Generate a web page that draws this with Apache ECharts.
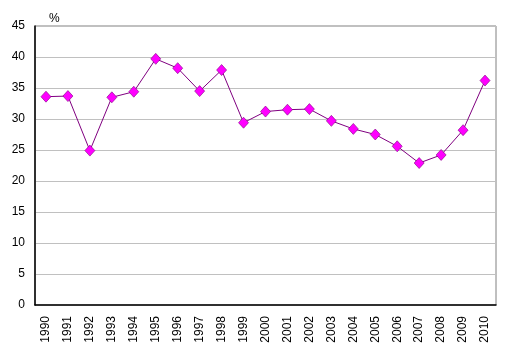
<!DOCTYPE html>
<html><head><meta charset="utf-8">
<script src="https://cdn.jsdelivr.net/npm/echarts@6/dist/echarts.min.js"></script>
<style>html,body{margin:0;padding:0;background:#fff}#c{width:511px;height:358px}</style>
</head><body><div id="c"></div>
<script>
var years = ['1990','1991','1992','1993','1994','1995','1996','1997','1998','1999','2000','2001','2002','2003','2004','2005','2006','2007','2008','2009','2010'];
var values = [33.6,33.7,24.9,33.5,34.4,39.7,38.2,34.5,37.9,29.4,31.2,31.5,31.6,29.7,28.4,27.5,25.6,22.9,24.2,28.2,36.2];
var yTicks = {min:0, max:45, step:5};
var unit = '%';

var chart = echarts.init(document.getElementById('c'), null, {renderer:'canvas'});
chart.setOption({
  animation:false,
  backgroundColor:'#fff',
  textStyle:{fontFamily:'Liberation Sans, Arial, sans-serif'},
  title:{text:unit,left:44,top:8,textStyle:{fontSize:12,fontWeight:'normal',color:'#000',fontFamily:'Liberation Sans, Arial, sans-serif'}},
  grid:{left:35,right:15,top:26,bottom:53,show:true,borderColor:'#808080',borderWidth:1,backgroundColor:'#fff'},
  xAxis:{type:'category',data:years,boundaryGap:true,
    axisLine:{lineStyle:{color:'#000',width:1.5}},
    axisTick:{show:false},
    axisLabel:{rotate:90,fontSize:12,color:'#000',margin:11,interval:0}},
  yAxis:{type:'value',min:yTicks.min,max:yTicks.max,interval:yTicks.step,
    axisLine:{show:true,lineStyle:{color:'#000',width:1.5}},
    axisTick:{show:false},
    splitLine:{lineStyle:{color:'#c0c0c0',width:1}},
    axisLabel:{fontSize:12,color:'#000',margin:10}},
  series:[{type:'line',data:values,symbol:'diamond',symbolSize:[10,11],
    lineStyle:{color:'#800080',width:1},
    itemStyle:{color:'#ff00ff',borderColor:'#800080',borderWidth:0.6}}]
});
</script></body></html>
